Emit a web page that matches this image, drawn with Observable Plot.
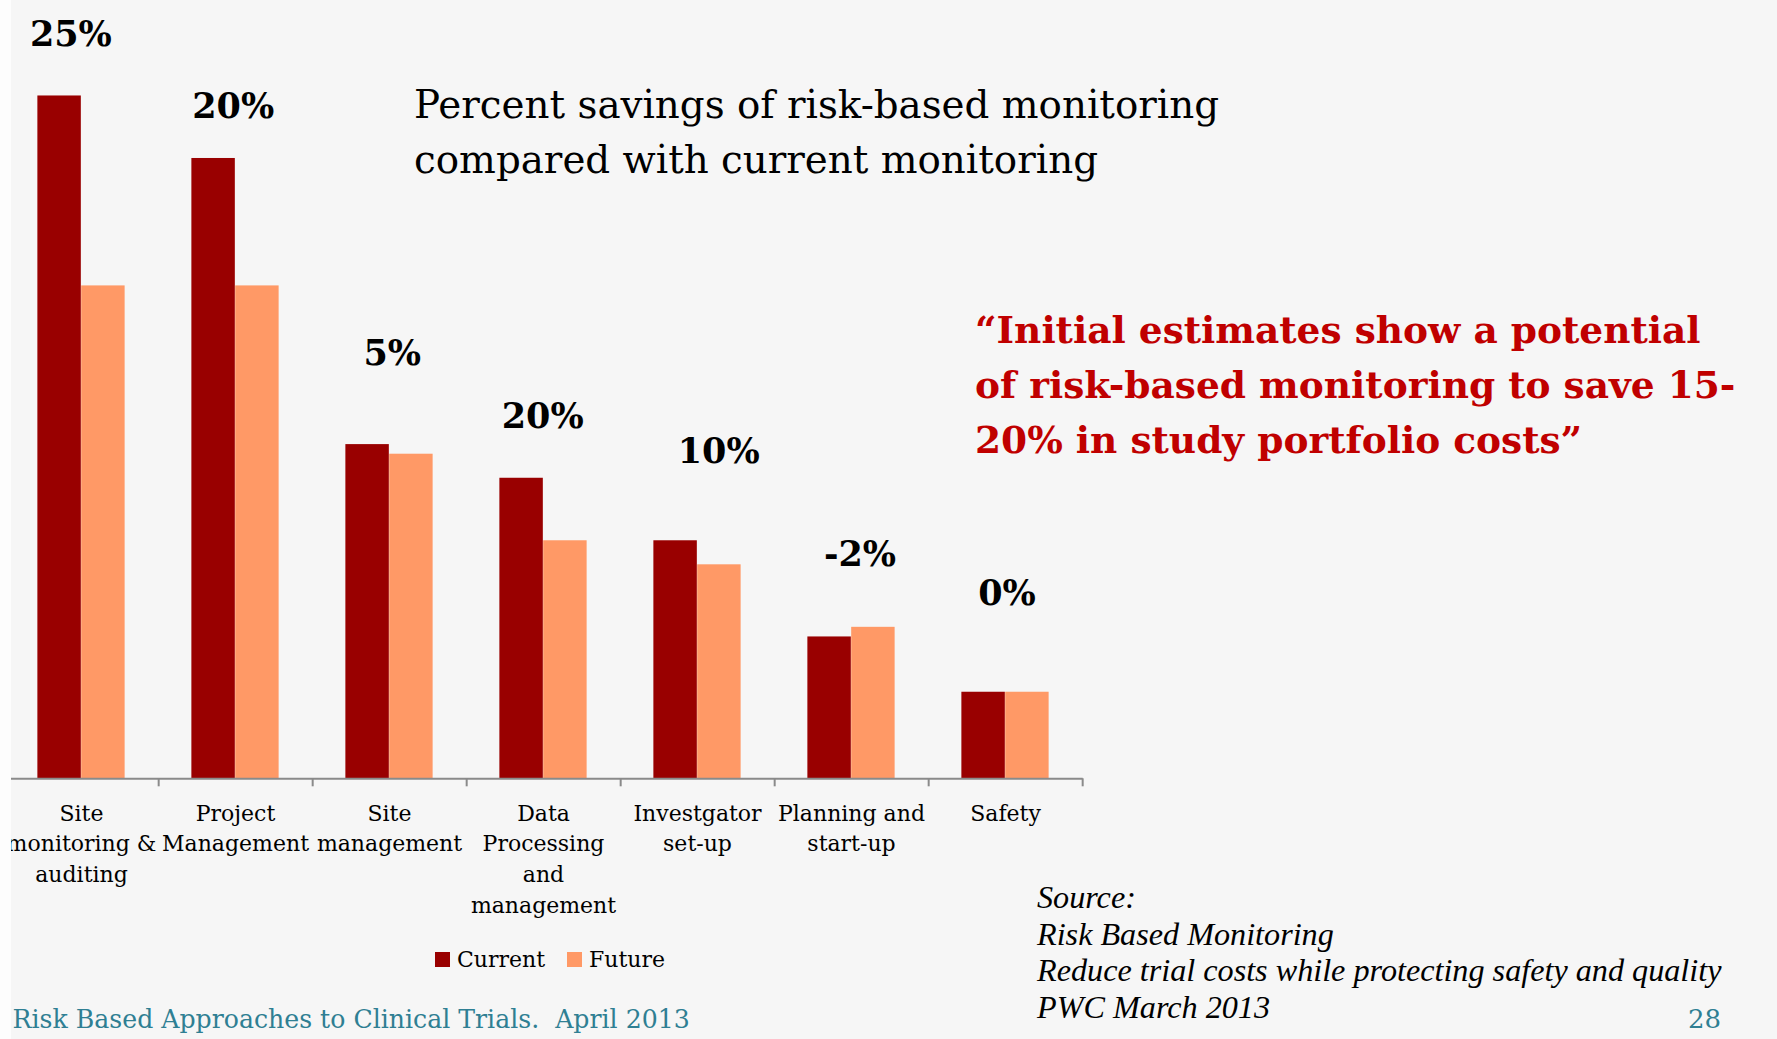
<!DOCTYPE html>
<html><head><meta charset="utf-8">
<script src="https://cdn.jsdelivr.net/npm/d3@7"></script>
<script src="https://cdn.jsdelivr.net/npm/@observablehq/plot@0.6"></script>
<style>
html,body{margin:0;padding:0;}
body{width:1777px;height:1039px;position:relative;overflow:hidden;background:#f6f6f6;font-family:'DejaVu Serif',serif;}
#strip{position:absolute;left:0;top:0;width:11px;height:1039px;background:#fdfdfd;}
#chart{position:absolute;left:11px;top:0;width:1100px;height:960px;overflow:hidden;}
#chart svg{position:absolute;left:-11px;top:0;max-width:none !important;}
#legend{position:absolute;left:435px;top:943px;}
#overlay{position:absolute;left:0;top:0;pointer-events:none;}
.lg-swatches{font-family:'DejaVu Serif',serif !important;font-size:22px !important;color:#000 !important;}
.lg-swatch{margin-right:22px !important;}
.lg-swatch > svg{margin-right:7px !important;}
</style></head>
<body>
<div id="strip"></div>
<div id="chart"></div>
<div id="legend"></div>
<script>
// ---- data ----
const categories = ["Site monitoring & auditing","Project Management","Site management","Data Processing and management","Investgator set-up","Planning and start-up","Safety"];
const tickLabels = ["Site\nmonitoring &\nauditing","Project\nManagement","Site\nmanagement","Data\nProcessing\nand\nmanagement","Investgator\nset-up","Planning and\nstart-up","Safety"];
const series = ["Current","Future"];
const currentValues = [28.4,25.8,13.9,12.5,9.9,5.9,3.6];
const futureValues = [20.5,20.5,13.5,9.9,8.9,6.3,3.6];
const savingsLabels = ["25%","20%","5%","20%","10%","-2%","0%"];
const titleLines = ["Percent savings of risk-based monitoring","compared with current monitoring"];
const quoteLines = ["\u201cInitial estimates show a potential","of risk-based monitoring to save 15-","20% in study portfolio costs\u201d"];
const sourceLines = ["Source:","Risk Based Monitoring","Reduce trial costs while protecting safety and quality","PWC March 2013"];
const footerText = "Risk Based Approaches to Clinical Trials.\u00a0 April 2013";
const pageNumber = "28";

// ---- layout ----
const W = 1100, H = 960, ML = 2.3, MR = W - 1082.7, MT = 57, MB = H - 778.3;
const step = (W - ML - MR) / categories.length;
const barW = 43.8, pad = step / 2 - barW;
const labelNudge = [[-10.6,50],[-2.3,40],[2.8,80],[-0.8,50],[21.2,78],[8.5,61],[1.5,87]];

const currentBars = categories.map((c,i)=>({category:c, series:"Current", value:currentValues[i]}));
const futureBars = categories.map((c,i)=>({category:c, series:"Future", value:futureValues[i]}));
const labels = categories.map((c,i)=>({category:c, label:savingsLabels[i], top:Math.max(currentValues[i], futureValues[i])}));

const plot = Plot.plot({
  width: W, height: H, marginLeft: ML, marginRight: MR, marginTop: MT, marginBottom: MB,
  style: {background:"transparent", fontFamily:"DejaVu Serif", overflow:"visible", maxWidth:"none"},
  x: {domain: categories, padding: 0, axis: null},
  y: {domain: [0, 30], axis: null},
  color: {domain: series, range: ["#990000", "#ff9966"]},
  marks: [
    Plot.barY(currentBars, {x:"category", y:"value", fill:"series", insetLeft:pad, insetRight:step/2}),
    Plot.barY(futureBars, {x:"category", y:"value", fill:"series", insetLeft:step/2, insetRight:pad}),
    Plot.ruleY([0], {stroke:"#8a8a8a", strokeWidth:2}),
    Plot.axisX({anchor:"bottom", label:null, tickSize:8, tickFormat:()=>"", stroke:"#8a8a8a", strokeWidth:2, dx: step/2}),
    Plot.axisX({anchor:"bottom", label:null, tickSize:0, tickPadding:20, tickFormat:d=>tickLabels[categories.indexOf(d)], fontSize:22, lineHeight:1.395, fill:"#000", fontFamily:"DejaVu Serif"}),
    ...labels.map((d,i)=>Plot.text([d], {x:"category", y:"top", text:"label", dx:labelNudge[i][0], dy:-labelNudge[i][1], lineAnchor:"bottom", fontSize:35, fontWeight:"bold", fill:"#000", fontFamily:"DejaVu Serif"}))
  ]
});
document.getElementById("chart").appendChild(plot);

const legend = plot.legend("color", {className:"lg", swatchSize:15});
document.getElementById("legend").appendChild(legend);

// ---- overlay texts ----
const ov = d3.select("body").append("svg").attr("id","overlay").attr("width",1777).attr("height",1039);
function addLines(lines, x, y0, lh, attrs){
  lines.forEach((t,i)=>{
    const el = ov.append("text").attr("x",x).attr("y",y0+i*lh).text(t);
    for (const k in attrs) el.attr(k, attrs[k]);
  });
}
addLines(titleLines, 414, 118, 54.5, {"font-family":"DejaVu Serif","font-size":38.8,"fill":"#000"});
addLines(quoteLines, 975, 343, 55, {"font-family":"DejaVu Serif","font-size":37.5,"font-weight":"bold","fill":"#c00000"});
addLines(sourceLines, 1037, 908, 36.5, {"font-family":"Liberation Serif","font-size":32.2,"font-style":"italic","fill":"#000"});
addLines([footerText], 12.6, 1028, 0, {"font-family":"DejaVu Serif","font-size":25.2,"fill":"#2f7f93"});
addLines([pageNumber], 1721, 1028, 0, {"font-family":"DejaVu Serif","font-size":26,"fill":"#2f7f93","text-anchor":"end"});
</script>
</body></html>
